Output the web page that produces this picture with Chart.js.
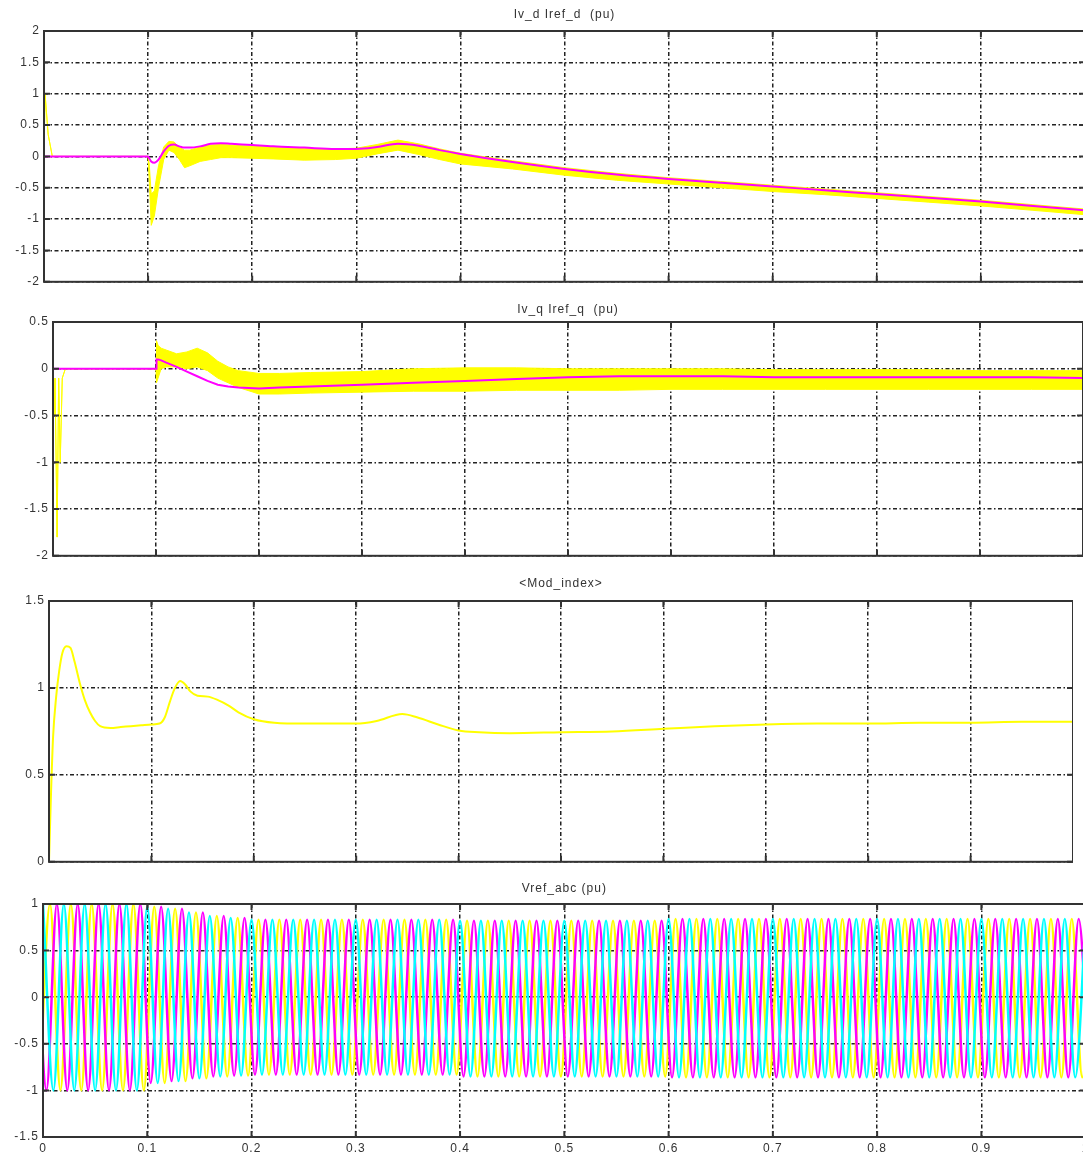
<!DOCTYPE html>
<html>
<head>
<meta charset="utf-8">
<title>Vref / Mod_index</title>
<script src="https://cdn.jsdelivr.net/npm/chart.js@4.4.1/dist/chart.umd.min.js"></script>
<style>
  html, body { margin: 0; padding: 0; background: #fff; overflow: hidden; }
  .panel { position: absolute; left: 0; }
</style>
</head>
<body>
<div class="panel" style="top:0px;width:1085px;height:293px"><canvas id="c1"></canvas></div>
<div class="panel" style="top:298px;width:1083px;height:269px"><canvas id="c2"></canvas></div>
<div class="panel" style="top:573px;width:1073px;height:300px"><canvas id="c3"></canvas></div>
<div class="panel" style="top:877px;width:1093px;height:277px"><canvas id="c4"></canvas></div>
<script>
// --- Iv_d / Iref_d (pu)
const tD = [0, 0.001, 0.004, 0.008, 0.1, 0.101, 0.103, 0.106, 0.11, 0.115,
  0.12, 0.125, 0.13, 0.135, 0.14, 0.15, 0.16, 0.17, 0.18, 0.2,
  0.22, 0.25, 0.28, 0.3, 0.32, 0.34, 0.36, 0.38, 0.4, 0.45,
  0.5, 0.55, 0.6, 0.65, 0.7, 0.75, 0.8, 0.85, 0.9, 0.95, 1.0];
const irefD = [0, 0, 0, 0, 0, -0.03, -0.08, -0.1, -0.05, 0.08,
  0.17, 0.19, 0.16, 0.14, 0.14, 0.16, 0.2, 0.21, 0.2, 0.18,
  0.16, 0.14, 0.12, 0.12, 0.15, 0.2, 0.17, 0.1, 0.04, -0.09,
  -0.2, -0.29, -0.36, -0.42, -0.48, -0.54, -0.6, -0.66, -0.72, -0.79, -0.86];
const ivdHi = [0, 1.0, 0.35, 0, 0, -0.1, -0.6, -0.55, -0.15, 0.15,
  0.24, 0.23, 0.14, 0.1, 0.1, 0.15, 0.18, 0.19, 0.18, 0.16,
  0.15, 0.13, 0.12, 0.13, 0.19, 0.26, 0.2, 0.12, 0.05, -0.07,
  -0.18, -0.27, -0.34, -0.4, -0.46, -0.52, -0.58, -0.64, -0.7, -0.77, -0.84];
const ivdLo = [0, 1.0, 0.35, 0, 0, -0.35, -1.1, -0.95, -0.5, -0.05,
  0.1, 0.06, -0.05, -0.18, -0.15, -0.08, -0.05, -0.02, -0.02, -0.03,
  -0.04, -0.06, -0.05, -0.03, 0.04, 0.1, 0.03, -0.05, -0.12, -0.2,
  -0.3, -0.38, -0.44, -0.5, -0.56, -0.61, -0.67, -0.73, -0.79, -0.86, -0.93];

// --- Iv_q / Iref_q (pu)
const tQ = [0, 0.001, 0.002, 0.004, 0.0055, 0.007, 0.009, 0.012, 0.1, 0.1005,
  0.102, 0.105, 0.11, 0.12, 0.13, 0.14, 0.15, 0.16, 0.17, 0.18,
  0.2, 0.22, 0.25, 0.3, 0.35, 0.4, 0.45, 0.5, 0.55, 0.6,
  0.65, 0.7, 0.75, 0.8, 0.85, 0.9, 0.95, 1.0];
const irefQ = [0, 0, 0, 0, 0, 0, 0, 0, 0, 0.1,
  0.1, 0.09, 0.065, 0.02, -0.03, -0.08, -0.13, -0.17, -0.19, -0.2,
  -0.21, -0.2, -0.19, -0.17, -0.15, -0.13, -0.11, -0.09, -0.08, -0.08,
  -0.08, -0.09, -0.09, -0.09, -0.09, -0.09, -0.09, -0.1];
const ivqHi = [0, -0.5, -0.1, -1.8, -0.1, -1.0, -0.1, 0, 0, 0.3,
  0.25, 0.22, 0.2, 0.16, 0.18, 0.22, 0.17, 0.08, 0.02, -0.02,
  -0.05, -0.05, -0.04, -0.03, 0.0, 0.01, 0.01, 0.0, 0.0, 0.0,
  0.0, -0.01, -0.01, -0.01, -0.01, -0.02, -0.02, -0.02];
const ivqLo = [0, -0.5, -0.1, -1.8, -0.1, -1.0, -0.1, 0, 0, -0.15,
  -0.1, 0.0, 0.02, 0.02, 0.0, 0.02, -0.02, -0.1, -0.15, -0.2,
  -0.27, -0.27, -0.26, -0.25, -0.24, -0.24, -0.23, -0.23, -0.23, -0.22,
  -0.22, -0.22, -0.22, -0.22, -0.22, -0.22, -0.22, -0.22];

// --- <Mod_index>
const tM = [0, 0.002, 0.004, 0.007, 0.01, 0.013, 0.017, 0.021, 0.025, 0.03,
  0.035, 0.04, 0.045, 0.05, 0.06, 0.07, 0.08, 0.09, 0.1, 0.108,
  0.113, 0.118, 0.123, 0.128, 0.133, 0.138, 0.145, 0.155, 0.165, 0.175,
  0.185, 0.2, 0.22, 0.25, 0.28, 0.3, 0.32, 0.345, 0.36, 0.38,
  0.4, 0.42, 0.45, 0.5, 0.55, 0.6, 0.65, 0.7, 0.75, 0.8,
  0.85, 0.9, 0.95, 1.0];
const modIndex = [0, 0.4, 0.72, 0.95, 1.1, 1.2, 1.24, 1.23, 1.15, 1.03,
  0.93, 0.86, 0.81, 0.78, 0.77, 0.775, 0.78, 0.785, 0.79, 0.795,
  0.83, 0.92, 1.0, 1.04, 1.02, 0.98, 0.955, 0.95, 0.93, 0.9,
  0.86, 0.82, 0.8, 0.795, 0.795, 0.795, 0.81, 0.85, 0.83, 0.79,
  0.755, 0.745, 0.74, 0.745, 0.75, 0.765, 0.78, 0.79, 0.795, 0.795,
  0.8, 0.8, 0.805, 0.805];

// --- Vref_abc (pu): successive peaks / troughs of each phase, one every half period (50 Hz)
const halfPeriod = 0.01;
const vrefStartA = -0.0033, vrefStartB = -0.0067, vrefStartC = 0;
const vrefA = [
  -1, 1, -1, 1, -1, 1, -1, 1, -1, 1,
  -1, 0.97, -0.92, 0.95, -0.9, 0.91, -0.87, 0.87, -0.85, 0.85,
  -0.84, 0.83, -0.83, 0.83, -0.83, 0.83, -0.83, 0.83, -0.83, 0.83,
  -0.83, 0.83, -0.83, 0.83, -0.83, 0.83, -0.83, 0.83, -0.83, 0.83,
  -0.83, 0.82, -0.85, 0.82, -0.85, 0.82, -0.85, 0.82, -0.85, 0.82,
  -0.85, 0.82, -0.85, 0.82, -0.85, 0.82, -0.85, 0.82, -0.85, 0.82,
  -0.85, 0.84, -0.86, 0.84, -0.86, 0.84, -0.86, 0.84, -0.86, 0.84,
  -0.86, 0.84, -0.86, 0.84, -0.86, 0.84, -0.86, 0.84, -0.86, 0.84,
  -0.86, 0.84, -0.86, 0.84, -0.86, 0.84, -0.86, 0.84, -0.86, 0.84,
  -0.86, 0.84, -0.86, 0.84, -0.86, 0.84, -0.86, 0.84, -0.86, 0.84,
  -0.86, 0.84];
const vrefB = [
  1, -1, 1, -1, 1, -1, 1, -1, 1, -1,
  1, -0.92, 0.97, -0.9, 0.95, -0.87, 0.91, -0.85, 0.87, -0.84,
  0.85, -0.83, 0.83, -0.83, 0.83, -0.83, 0.83, -0.83, 0.83, -0.83,
  0.83, -0.83, 0.83, -0.83, 0.83, -0.83, 0.83, -0.83, 0.83, -0.83,
  0.83, -0.85, 0.82, -0.85, 0.82, -0.85, 0.82, -0.85, 0.82, -0.85,
  0.82, -0.85, 0.82, -0.85, 0.82, -0.85, 0.82, -0.85, 0.82, -0.85,
  0.82, -0.86, 0.84, -0.86, 0.84, -0.86, 0.84, -0.86, 0.84, -0.86,
  0.84, -0.86, 0.84, -0.86, 0.84, -0.86, 0.84, -0.86, 0.84, -0.86,
  0.84, -0.86, 0.84, -0.86, 0.84, -0.86, 0.84, -0.86, 0.84, -0.86,
  0.84, -0.86, 0.84, -0.86, 0.84, -0.86, 0.84, -0.86, 0.84, -0.86,
  0.84, -0.86];
const vrefC = [
  1, -1, 1, -1, 1, -1, 1, -1, 1, -1,
  0.97, -0.92, 0.95, -0.9, 0.91, -0.87, 0.87, -0.85, 0.85, -0.84,
  0.83, -0.83, 0.83, -0.83, 0.83, -0.83, 0.83, -0.83, 0.83, -0.83,
  0.83, -0.83, 0.83, -0.83, 0.83, -0.83, 0.83, -0.83, 0.83, -0.83,
  0.82, -0.85, 0.82, -0.85, 0.82, -0.85, 0.82, -0.85, 0.82, -0.85,
  0.82, -0.85, 0.82, -0.85, 0.82, -0.85, 0.82, -0.85, 0.82, -0.85,
  0.84, -0.86, 0.84, -0.86, 0.84, -0.86, 0.84, -0.86, 0.84, -0.86,
  0.84, -0.86, 0.84, -0.86, 0.84, -0.86, 0.84, -0.86, 0.84, -0.86,
  0.84, -0.86, 0.84, -0.86, 0.84, -0.86, 0.84, -0.86, 0.84, -0.86,
  0.84, -0.86, 0.84, -0.86, 0.84, -0.86, 0.84, -0.86, 0.84, -0.86,
  0.84];

const pts = (xs, ys) => xs.map((x, i) => ({ x: x, y: ys[i] }));
const halfPts = (t0, ys) => ys.map((y, i) => ({ x: t0 + i * halfPeriod, y: y }));
// matlab writes 2, 1.5, 0.1 ... never 2.0
const tickLabel = v => String(Math.round(v * 10) / 10);

Chart.defaults.font.family = '"Liberation Sans", Arial, sans-serif';
Chart.defaults.font.size = 12;
Chart.defaults.color = '#333';

const gridDash = [4, 2.5, 1.5, 2.5];

// matlab style box with inner tick marks, and the wide letter spacing of the scope text
const boxPlugin = {
  id: 'box',
  beforeDraw(chart) {
    chart.ctx.letterSpacing = '1px';
  },
  afterDraw(chart) {
    const { ctx, chartArea: a, scales } = chart;
    ctx.save();
    ctx.strokeStyle = '#333';
    ctx.lineWidth = 2;
    ctx.strokeRect(a.left, a.top, a.right - a.left, a.bottom - a.top);
    ctx.beginPath();
    scales.x.ticks.forEach(t => {
      const px = scales.x.getPixelForValue(t.value);
      ctx.moveTo(px, a.top); ctx.lineTo(px, a.top + 6);
      ctx.moveTo(px, a.bottom); ctx.lineTo(px, a.bottom - 6);
    });
    scales.y.ticks.forEach(t => {
      const py = scales.y.getPixelForValue(t.value);
      ctx.moveTo(a.left, py); ctx.lineTo(a.left + 6, py);
      ctx.moveTo(a.right, py); ctx.lineTo(a.right - 6, py);
    });
    ctx.stroke();
    ctx.restore();
  }
};

function makeOptions(title, yMin, yMax, yWidth, titlePad, showX) {
  return {
    responsive: true,
    maintainAspectRatio: false,
    animation: false,
    layout: { padding: 0 },
    plugins: {
      legend: { display: false },
      tooltip: { enabled: false },
      title: { display: true, text: title, fullSize: false, padding: titlePad,
               font: { size: 12, weight: 'normal' }, color: '#333' }
    },
    scales: {
      x: {
        type: 'linear', min: 0, max: 1,
        ticks: { display: showX, stepSize: 0.1, padding: 4, maxRotation: 0, autoSkip: false, callback: tickLabel },
        grid: { color: '#222', lineWidth: 1.5, drawTicks: false },
        border: { display: false, dash: gridDash },
        afterFit: s => { s.height = showX ? 17 : 10; }
      },
      y: {
        type: 'linear', min: yMin, max: yMax,
        ticks: { stepSize: 0.5, padding: 4, callback: tickLabel },
        grid: { color: '#222', lineWidth: 1.5, drawTicks: false },
        border: { display: false, dash: gridDash },
        afterFit: s => { s.width = yWidth; }
      }
    }
  };
}

const line = (data, color, width, extra) => Object.assign({
  data: data, borderColor: color, borderWidth: width, pointRadius: 0, fill: false
}, extra || {});

new Chart(document.getElementById('c1'), {
  type: 'line',
  data: { datasets: [
    line(pts(tD, irefD), '#ff00ff', 2, { cubicInterpolationMode: 'monotone' }),
    line(pts(tD, ivdHi), '#ffff00', 1, { fill: '+1', backgroundColor: '#ffff00' }),
    line(pts(tD, ivdLo), '#ffff00', 1)
  ] },
  options: makeOptions('Iv_d Iref_d  (pu)', -2, 2, 44, { top: 7, bottom: 9.6 }, false),
  plugins: [boxPlugin]
});

new Chart(document.getElementById('c2'), {
  type: 'line',
  data: { datasets: [
    line(pts(tQ, irefQ), '#ff00ff', 2),
    line(pts(tQ, ivqHi), '#ffff00', 1, { fill: '+1', backgroundColor: '#ffff00' }),
    line(pts(tQ, ivqLo), '#ffff00', 1)
  ] },
  options: makeOptions('Iv_q Iref_q  (pu)', -2, 0.5, 53, { top: 4.3, bottom: 5.3 }, false),
  plugins: [boxPlugin]
});

new Chart(document.getElementById('c3'), {
  type: 'line',
  data: { datasets: [
    line(pts(tM, modIndex), '#ffff00', 2, { cubicInterpolationMode: 'monotone' })
  ] },
  options: makeOptions('<Mod_index>', 0, 1.5, 49, { top: 3.8, bottom: 9.8 }, false),
  plugins: [boxPlugin]
});

new Chart(document.getElementById('c4'), {
  type: 'line',
  data: { datasets: [
    line(halfPts(vrefStartC, vrefC), '#00ffff', 2.5, { cubicInterpolationMode: 'monotone' }),
    line(halfPts(vrefStartB, vrefB), '#ff00ff', 2.5, { cubicInterpolationMode: 'monotone' }),
    line(halfPts(vrefStartA, vrefA), '#ffff00', 2.5, { cubicInterpolationMode: 'monotone' })
  ] },
  options: makeOptions('Vref_abc (pu)', -1.5, 1, 43, { top: 4.3, bottom: 8.3 }, true),
  plugins: [boxPlugin]
});
</script>
</body>
</html>
